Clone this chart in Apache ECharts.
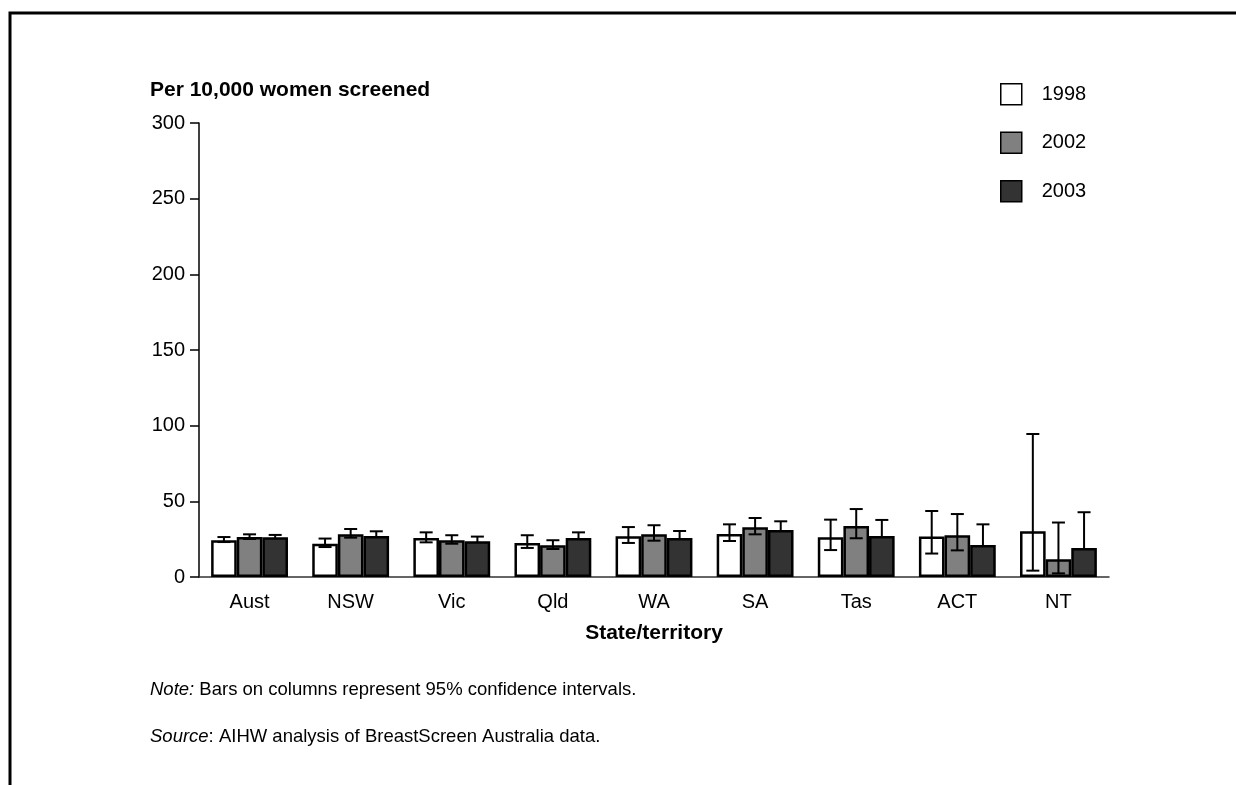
<!DOCTYPE html>
<html>
<head>
<meta charset="utf-8">
<script src="https://cdn.jsdelivr.net/npm/echarts@6/dist/echarts.min.js"></script>
<style>
  html, body { margin: 0; padding: 0; background: #fff; }
  #chart { width: 1236px; height: 785px; }
</style>
</head>
<body>
<div id="chart"></div>
<script>
const categories = ['Aust', 'NSW', 'Vic', 'Qld', 'WA', 'SA', 'Tas', 'ACT', 'NT'];
const years = ['1998', '2002', '2003'];

// rates per 10,000 women screened, with 95% CI
const rate1998 = [24.3, 22.0, 25.8, 22.5, 26.9, 28.4, 26.2, 26.7, 30.2];
const low1998 = [23.1, 19.8, 22.9, 19.2, 22.5, 23.8, 17.8, 15.5, 4.2];
const high1998 = [26.4, 25.4, 29.5, 27.6, 33.0, 34.8, 37.9, 43.6, 94.5];

const rate2002 = [26.4, 28.2, 24.3, 21.0, 28.2, 32.8, 33.7, 27.6, 11.7];
const low2002 = [25.1, 26.0, 22.0, 18.5, 24.0, 28.2, 25.6, 17.6, 2.4];
const high2002 = [28.2, 31.7, 27.6, 24.3, 34.2, 39.0, 44.9, 41.6, 36.0];

const rate2003 = [26.3, 27.1, 23.6, 25.8, 25.8, 31.1, 27.1, 21.2, 19.2];
const low2003 = [25.0, 24.2, 21.0, 22.5, 21.6, 26.0, 18.5, 10.0, 4.0];
const high2003 = [27.8, 30.2, 26.7, 29.5, 30.4, 36.8, 37.7, 34.8, 42.8];

const colors = ['#ffffff', '#808080', '#333333'];
const gapPct = 0.24;
const font = 'Liberation Sans, Arial, sans-serif';

// error bars drawn at the centre of bar number idx in each group
function errorBars(idx) {
  return function (params, api) {
    const i = api.value(0);
    const band = api.size([1, 0])[0];
    const bw = band * (1 - gapPct) / 3;
    const x = api.coord([i, 0])[0] + (idx - 1) * bw;
    const yLo = api.coord([i, api.value(1)])[1];
    const yHi = api.coord([i, api.value(2)])[1];
    const cap = 6.5;
    const st = { stroke: '#000', lineWidth: 2 };
    return {
      type: 'group',
      children: [
        { type: 'line', shape: { x1: x, y1: yLo, x2: x, y2: yHi }, style: st },
        { type: 'line', shape: { x1: x - cap, y1: yHi, x2: x + cap, y2: yHi }, style: st },
        { type: 'line', shape: { x1: x - cap, y1: yLo, x2: x + cap, y2: yLo }, style: st }
      ]
    };
  };
}

function barSeries(name, values, idx) {
  return {
    name: name,
    type: 'bar',
    data: values,
    barGap: '0%',
    barCategoryGap: (gapPct * 100) + '%',
    z: 2,
    itemStyle: { color: colors[idx], borderColor: '#000', borderWidth: 2.5 }
  };
}

function ciSeries(lo, hi, idx, z) {
  return {
    type: 'custom',
    renderItem: errorBars(idx),
    encode: { x: 0, y: [1, 2] },
    data: categories.map((c, i) => [i, lo[i], hi[i]]),
    z: z,
    silent: true
  };
}

const chart = echarts.init(document.getElementById('chart'));
chart.setOption({
  animation: false,
  backgroundColor: '#fff',
  textStyle: { fontFamily: font },
  graphic: [
    {
      type: 'rect', z: -10, silent: true,
      shape: { x: 10, y: 13, width: 2000, height: 2000 },
      style: { fill: 'none', stroke: '#000', lineWidth: 3 }
    },
    {
      type: 'text', left: 150, top: 80,
      style: { text: 'Per 10,000 women screened', font: 'bold 21px ' + font, fill: '#000' }
    },
    {
      type: 'text', left: 150, top: 680,
      style: {
        text: '{i|Note:} Bars on columns represent 95% confidence intervals.',
        font: '18.5px ' + font, fill: '#000',
        rich: { i: { fontStyle: 'italic', fontSize: 18.5, fontFamily: font } }
      }
    },
    {
      type: 'text', left: 150, top: 727,
      style: {
        text: '{i|Source}: AIHW analysis of BreastScreen Australia data.',
        font: '18.5px ' + font, fill: '#000',
        rich: { i: { fontStyle: 'italic', fontSize: 18.5, fontFamily: font } }
      }
    }
  ],
  legend: {
    data: years,
    orient: 'vertical',
    left: 995,
    top: 78,
    itemWidth: 21,
    itemHeight: 21,
    itemGap: 26,
    icon: 'rect',
    itemStyle: { borderColor: '#000', borderWidth: 1.5 },
    textStyle: { fontSize: 20, lineHeight: 21, color: '#000', fontFamily: font, padding: [0, 0, 0, 15] }
  },
  grid: { left: 199, right: 127, top: 123, bottom: 208, containLabel: false },
  xAxis: {
    type: 'category',
    data: categories,
    name: 'State/territory',
    nameLocation: 'middle',
    nameGap: 46,
    nameTextStyle: { fontSize: 21, fontWeight: 'bold', color: '#000', fontFamily: font },
    axisLine: { lineStyle: { color: '#333', width: 1.5 } },
    axisTick: { alignWithLabel: true, length: 6, lineStyle: { color: '#777', width: 1.5 } },
    axisLabel: { fontSize: 20, color: '#000', margin: 15, fontFamily: font }
  },
  yAxis: {
    type: 'value',
    min: 0,
    max: 300,
    interval: 50,
    splitLine: { show: false },
    axisLine: { show: true, lineStyle: { color: '#000', width: 1.5 } },
    axisTick: { show: true, length: 9, lineStyle: { color: '#000', width: 1.5 } },
    axisLabel: { fontSize: 20, color: '#000', margin: 14, fontFamily: font }
  },
  series: [
    barSeries(years[0], rate1998, 0),
    barSeries(years[1], rate2002, 1),
    barSeries(years[2], rate2003, 2),
    ciSeries(low1998, high1998, 0, 3),
    ciSeries(low2002, high2002, 1, 3),
    ciSeries(low2003, high2003, 2, 1)
  ]
});
</script>
</body>
</html>
